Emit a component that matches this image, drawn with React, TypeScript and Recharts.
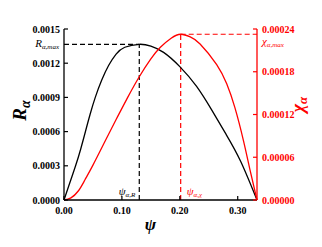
import React from 'react';
import { LineChart, Line, XAxis, YAxis, ReferenceLine, Label } from 'recharts';

// psi values and the two curves
const rPsi = [0, 0.008, 0.02, 0.029, 0.037, 0.045, 0.054, 0.065, 0.077, 0.09, 0.105, 0.13, 0.15, 0.172, 0.2, 0.229, 0.255, 0.28, 0.305, 0.3333];
const rValues = [0, 0.00012, 0.0003, 0.00045, 0.0006, 0.00075, 0.0009, 0.00105, 0.00118, 0.00128, 0.00134, 0.001366, 0.00135, 0.001295, 0.00117, 0.000996, 0.00079, 0.000575, 0.00034, 0];

const chiPsi = [0, 0.012, 0.025, 0.036, 0.05, 0.07, 0.09, 0.11, 0.13, 0.15, 0.166, 0.185, 0.2015, 0.218, 0.235, 0.2637, 0.281, 0.295, 0.31, 0.321, 0.3333];
const chiValues = [0, 0.000003, 0.000013, 0.000028, 0.000049, 0.000081, 0.000113, 0.000144, 0.000173, 0.000198, 0.000214, 0.000227, 0.0002326, 0.000229, 0.000219, 0.00019, 0.000163, 0.00013, 0.000083, 0.000043, 0];

const psiTicks = [0, 0.05, 0.1, 0.15, 0.2, 0.25, 0.3];
const rTicks = [0, 0.0003, 0.0006, 0.0009, 0.0012, 0.0015];
const chiTicks = [0, 0.00006, 0.00012, 0.00018, 0.00024];

const psiR = 0.13;
const rMax = 0.001366;
const psiChi = 0.2015;
const chiMax = 0.0002326;
const psiEnd = 0.3333;

const rData = rPsi.map((p, i) => ({ psi: p, r: rValues[i] }));
const chiData = chiPsi.map((p, i) => ({ psi: p, chi: chiValues[i] }));

const FONT = '"Liberation Serif", "DejaVu Serif", serif';
const RED = '#ff0000';
const TICK_LEN = 4;

const BottomTick = (props: any) => {
  const { x, y, payload } = props;
  const axisY = y - 3;
  return (
    <g>
      <line x1={x} y1={axisY} x2={x} y2={axisY - TICK_LEN} stroke="#000" strokeWidth={1.2} />
      <text x={x} y={axisY + 14} textAnchor="middle" fontFamily={FONT} fontWeight="bold" fontSize={10} fill="#000">
        {Number(payload.value).toFixed(2)}
      </text>
    </g>
  );
};

const TopTick = (props: any) => {
  const { x, y } = props;
  const axisY = y + 3;
  return <line x1={x} y1={axisY} x2={x} y2={axisY + TICK_LEN} stroke="#000" strokeWidth={1.2} />;
};

const LeftTick = (props: any) => {
  const { x, y, payload } = props;
  const axisX = x + 4;
  return (
    <g>
      <line x1={axisX} y1={y} x2={axisX + TICK_LEN} y2={y} stroke="#000" strokeWidth={1.2} />
      <text x={axisX - 4} y={y} dy="0.35em" textAnchor="end" fontFamily={FONT} fontWeight="bold" fontSize={10} fill="#000">
        {Number(payload.value).toFixed(4)}
      </text>
    </g>
  );
};

const RightTick = (props: any) => {
  const { x, y, payload } = props;
  const axisX = x - 5;
  return (
    <g>
      <line x1={axisX} y1={y} x2={axisX - TICK_LEN} y2={y} stroke={RED} strokeWidth={1.2} />
      <text x={axisX + 5} y={y} dy="0.35em" textAnchor="start" fontFamily={FONT} fontWeight="bold" fontSize={10} fill={RED}>
        {Number(payload.value).toFixed(5)}
      </text>
    </g>
  );
};

export default function App() {
  return (
    <div style={{ position: 'absolute', left: 0, top: 0 }}>
      <LineChart width={322} height={247} margin={{ top: 29, right: 0, bottom: 0, left: 0 }}>
        <XAxis
          xAxisId="top"
          orientation="top"
          type="number"
          dataKey="psi"
          domain={[0, psiEnd]}
          ticks={psiTicks}
          height={0}
          tickSize={0}
          tickMargin={3}
          tick={<TopTick />}
          axisLine={{ stroke: '#000', strokeWidth: 1.3 }}
          tickLine={false}
        />
        <XAxis
          type="number"
          dataKey="psi"
          domain={[0, psiEnd]}
          ticks={psiTicks}
          height={47}
          tickSize={0}
          tickMargin={3}
          tick={<BottomTick />}
          axisLine={{ stroke: '#000', strokeWidth: 1.3 }}
          tickLine={false}
          allowDuplicatedCategory={false}
        >
          <Label
            content={({ viewBox }: any) => (
              <text x={viewBox.x + viewBox.width / 2 - 10} y={viewBox.y + 30} textAnchor="middle" fontFamily={FONT} fontStyle="italic" fontWeight="bold" fontSize={17} fill="#000">
                ψ
              </text>
            )}
          />
        </XAxis>
        <YAxis
          yAxisId="left"
          domain={[0, 0.0015]}
          ticks={rTicks}
          width={64}
          tickSize={0}
          tickMargin={4}
          tick={<LeftTick />}
          axisLine={{ stroke: '#000', strokeWidth: 1.3 }}
          tickLine={false}
        >
          <Label
            content={({ viewBox }: any) => {
              const cx = viewBox.x + 26;
              const cy = viewBox.y + viewBox.height / 2 - 4;
              return (
                <text x={cx} y={cy} transform={`rotate(-90 ${cx} ${cy})`} textAnchor="middle" fontFamily={FONT} fontStyle="italic" fontWeight="bold" fontSize={19} fill="#000">
                  R<tspan fontSize={14} dy={4}>α</tspan>
                </text>
              );
            }}
          />
        </YAxis>
        <YAxis
          yAxisId="right"
          orientation="right"
          domain={[0, 0.00024]}
          ticks={chiTicks}
          width={65}
          tickSize={0}
          tickMargin={5}
          tick={<RightTick />}
          axisLine={{ stroke: RED, strokeWidth: 1.3 }}
          tickLine={false}
        >
          <Label
            content={({ viewBox }: any) => {
              const cx = viewBox.x + 47;
              const cy = viewBox.y + viewBox.height / 2 - 10;
              return (
                <text x={cx} y={cy} transform={`rotate(-90 ${cx} ${cy})`} textAnchor="middle" fontFamily={FONT} fontStyle="italic" fontWeight="bold" fontSize={18} fill={RED}>
                  χ<tspan fontSize={13} dy={3}>α</tspan>
                </text>
              );
            }}
          />
        </YAxis>

        <ReferenceLine
          yAxisId="left"
          segment={[{ x: 0, y: rMax }, { x: psiR, y: rMax }]}
          stroke="#000"
          strokeWidth={1.2}
          strokeDasharray="5 3"
        >
          <Label
            content={({ viewBox }: any) => (
              <text x={viewBox.x - 5} y={viewBox.y + 3} textAnchor="end" fontFamily={FONT} fontStyle="italic" fontSize={11} fill="#000">
                R<tspan fontSize={7} dy={2}>α,max</tspan>
              </text>
            )}
          />
        </ReferenceLine>
        <ReferenceLine
          yAxisId="left"
          segment={[{ x: psiR, y: 0 }, { x: psiR, y: rMax }]}
          stroke="#000"
          strokeWidth={1.2}
          strokeDasharray="5 3"
        >
          <Label
            content={({ viewBox }: any) => (
              <text x={viewBox.x - 4} y={viewBox.y + viewBox.height - 5} textAnchor="end" fontFamily={FONT} fontStyle="italic" fontSize={11} fill="#000">
                ψ<tspan fontSize={7} dy={2}>α,R</tspan>
              </text>
            )}
          />
        </ReferenceLine>
        <ReferenceLine
          yAxisId="right"
          segment={[{ x: psiChi, y: chiMax }, { x: psiEnd, y: chiMax }]}
          stroke={RED}
          strokeWidth={1.2}
          strokeDasharray="5 3"
        >
          <Label
            content={({ viewBox }: any) => (
              <text x={viewBox.x + viewBox.width + 5} y={viewBox.y + 11} textAnchor="start" fontFamily={FONT} fontStyle="italic" fontSize={11} fill={RED}>
                χ<tspan fontSize={7} dy={2}>α,max</tspan>
              </text>
            )}
          />
        </ReferenceLine>
        <ReferenceLine
          yAxisId="right"
          segment={[{ x: psiChi, y: 0 }, { x: psiChi, y: chiMax }]}
          stroke={RED}
          strokeWidth={1.2}
          strokeDasharray="5 3"
        >
          <Label
            content={({ viewBox }: any) => (
              <text x={viewBox.x + 6} y={viewBox.y + viewBox.height - 5} textAnchor="start" fontFamily={FONT} fontStyle="italic" fontSize={11} fill={RED}>
                ψ<tspan fontSize={7} dy={2}>α,χ</tspan>
              </text>
            )}
          />
        </ReferenceLine>

        <Line yAxisId="left" data={rData} dataKey="r" type="natural" stroke="#000" strokeWidth={1.3} dot={false} isAnimationActive={false} />
        <Line yAxisId="right" data={chiData} dataKey="chi" type="natural" stroke={RED} strokeWidth={1.3} dot={false} isAnimationActive={false} />
      </LineChart>
    </div>
  );
}
